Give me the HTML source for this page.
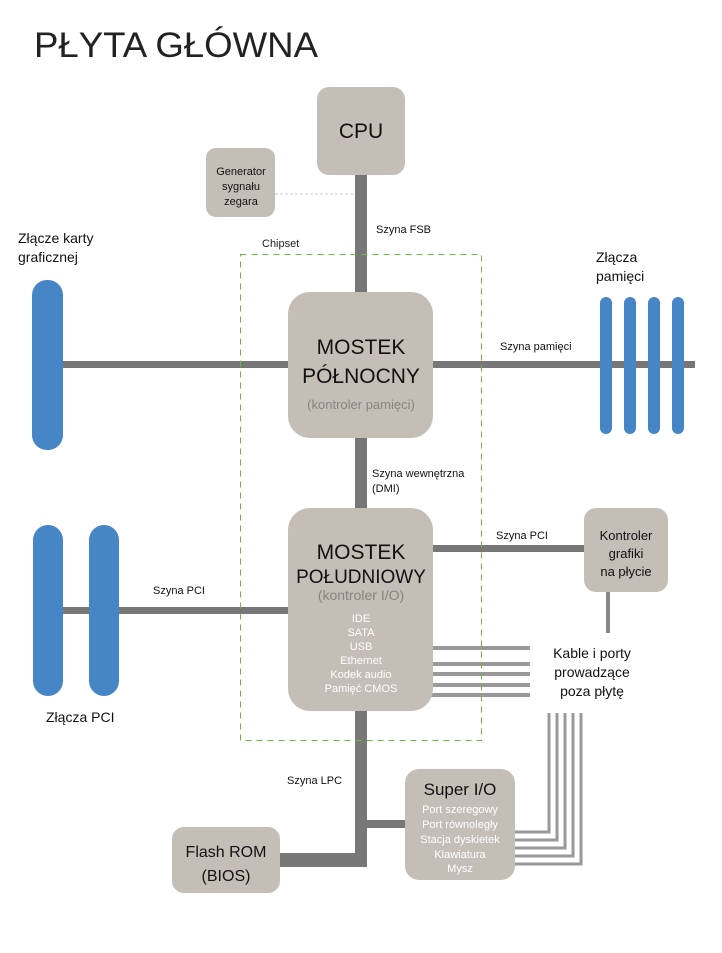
<!DOCTYPE html>
<html><head><meta charset="utf-8"><style>
html,body{margin:0;padding:0;background:#fff}
svg{display:block}
text{font-family:"Liberation Sans",sans-serif}
</style></head><body>
<svg width="722" height="953" viewBox="0 0 722 953" xmlns="http://www.w3.org/2000/svg">
<text x="34" y="57" font-size="35" fill="#222" textLength="284" lengthAdjust="spacingAndGlyphs">PŁYTA GŁÓWNA</text>

<!-- lines -->
<g fill="#777">
<rect x="355" y="170" width="12" height="697"/>
<rect x="62" y="361" width="230" height="7"/>
<rect x="430" y="361" width="265" height="7"/>
<rect x="60" y="607" width="232" height="7"/>
<rect x="430" y="545" width="158" height="7"/>
<rect x="275" y="853" width="92" height="14"/>
<rect x="367" y="820" width="42" height="8"/>
</g>
<rect x="606" y="590" width="4" height="43" fill="#888"/>
<g fill="#999">
<rect x="430" y="646" width="100" height="4"/>
<rect x="430" y="662" width="100" height="4"/>
<rect x="430" y="672" width="100" height="4"/>
<rect x="430" y="683" width="100" height="4"/>
<rect x="430" y="693" width="100" height="4"/>
</g>
<g fill="none" stroke="#999" stroke-width="3">
<path d="M512 832 H549 V713"/>
<path d="M512 840 H557 V713"/>
<path d="M512 848 H565 V713"/>
<path d="M512 856 H573 V713"/>
<path d="M512 864 H581 V713"/>
</g>
<line x1="275" y1="194" x2="355" y2="194" stroke="#ccc" stroke-dasharray="3,2" stroke-width="1"/>

<!-- chipset -->
<rect x="240.5" y="254.5" width="241" height="486" fill="none" stroke="#6ab83e" stroke-dasharray="6,5" stroke-width="1"/>
<text x="262" y="247" font-size="11" fill="#222">Chipset</text>

<!-- blue slots -->
<g fill="#4686c6">
<rect x="32" y="280" width="31" height="170" rx="15"/>
<rect x="600" y="297" width="12" height="137" rx="6"/>
<rect x="624" y="297" width="12" height="137" rx="6"/>
<rect x="648" y="297" width="12" height="137" rx="6"/>
<rect x="672" y="297" width="12" height="137" rx="6"/>
<rect x="33" y="525" width="30" height="171" rx="15"/>
<rect x="89" y="525" width="30" height="171" rx="15"/>
</g>

<!-- boxes -->
<g fill="#c4beb6">
<rect x="317" y="87" width="88" height="88" rx="12"/>
<rect x="206" y="148" width="69" height="69" rx="10"/>
<rect x="288" y="292" width="145" height="146" rx="22"/>
<rect x="288" y="508" width="145" height="203" rx="22"/>
<rect x="584" y="508" width="84" height="84" rx="12"/>
<rect x="405" y="769" width="110" height="111" rx="14"/>
<rect x="172" y="827" width="108" height="66" rx="12"/>
</g>

<g text-anchor="middle" fill="#111">
<text x="361" y="138" font-size="21">CPU</text>
<text x="241" y="175" font-size="11">Generator</text>
<text x="241" y="190" font-size="11">sygnału</text>
<text x="241" y="205" font-size="11">zegara</text>
<text x="361" y="354" font-size="21">MOSTEK</text>
<text x="361" y="383" font-size="21">PÓŁNOCNY</text>
<text x="361" y="409" font-size="13" fill="#8a847e">(kontroler pamięci)</text>
<text x="361" y="559" font-size="21">MOSTEK</text>
<text x="361" y="583" font-size="19">POŁUDNIOWY</text>
<text x="361" y="600" font-size="14" fill="#8a847e">(kontroler I/O)</text>
<g font-size="11" fill="#fff">
<text x="361" y="622">IDE</text>
<text x="361" y="636">SATA</text>
<text x="361" y="650">USB</text>
<text x="361" y="664">Ethernet</text>
<text x="361" y="678">Kodek audio</text>
<text x="361" y="692">Pamięć CMOS</text>
</g>
<text x="626" y="540" font-size="13">Kontroler</text>
<text x="626" y="558" font-size="13">grafiki</text>
<text x="626" y="576" font-size="13">na płycie</text>
<text x="460" y="795" font-size="17">Super I/O</text>
<g font-size="11" fill="#fff">
<text x="460" y="813">Port szeregowy</text>
<text x="460" y="828">Port równoległy</text>
<text x="460" y="843">Stacja dyskietek</text>
<text x="460" y="858">Klawiatura</text>
<text x="460" y="872">Mysz</text>
</g>
<text x="226" y="857" font-size="16">Flash ROM</text>
<text x="226" y="881" font-size="16">(BIOS)</text>
<text x="592" y="658" font-size="14">Kable i porty</text>
<text x="592" y="677" font-size="14">prowadzące</text>
<text x="592" y="696" font-size="14">poza płytę</text>
</g>

<g fill="#111">
<text x="18" y="243" font-size="14">Złącze karty</text>
<text x="18" y="262" font-size="14">graficznej</text>
<text x="596" y="262" font-size="14">Złącza</text>
<text x="596" y="281" font-size="14">pamięci</text>
<text x="46" y="722" font-size="14">Złącza PCI</text>
<text x="376" y="233" font-size="11">Szyna FSB</text>
<text x="500" y="350" font-size="11">Szyna pamięci</text>
<text x="372" y="477" font-size="11">Szyna wewnętrzna</text>
<text x="372" y="492" font-size="11">(DMI)</text>
<text x="496" y="539" font-size="11">Szyna PCI</text>
<text x="153" y="594" font-size="11">Szyna PCI</text>
<text x="287" y="784" font-size="11">Szyna LPC</text>
</g>
</svg>
</body></html>
